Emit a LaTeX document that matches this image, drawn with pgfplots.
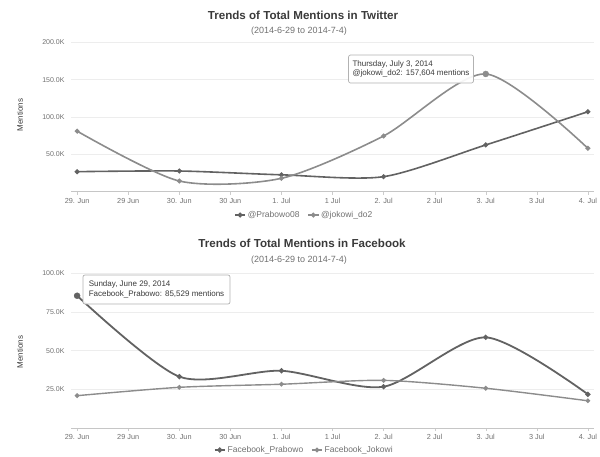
\documentclass[border=0pt]{standalone}
\usepackage{pgfplots}
\pgfplotsset{compat=1.18}
\usepackage{fontspec}
\setmainfont{Liberation Sans}
\definecolor{darkl}{HTML}{626262}
\definecolor{lightl}{HTML}{8C8C8C}
\definecolor{ticktxt}{HTML}{707070}
\definecolor{titletxt}{HTML}{3A3A3A}
\pgfplotsset{
  hc/.style={
    scale only axis,
    xmin=-0.06, xmax=5.06, ymin=0,
    axis x line*=bottom, axis y line*=left,
    x axis line style={draw=gray!45},
    y axis line style={draw=none},
    ytick style={draw=none},
    xtick style={draw=gray!40},
    major tick length=3pt, tick align=outside,
    ymajorgrids, grid style={gray!14, line width=0.6pt},
    xtick={0,0.5,...,5},
    xticklabels={29. Jun,29 Jun,30. Jun,30 Jun,1. Jul,1 Jul,2. Jul,2 Jul,3. Jul,3 Jul,4. Jul},
    xticklabel style={font=\fontsize{7.3}{8}\selectfont, text=ticktxt},
    yticklabel style={font=\fontsize{7}{8}\selectfont, text=ticktxt},
    /pgf/number format/assume math mode=true,
    legend columns=2,
    legend style={draw=none, fill=none, font=\fontsize{8.5}{9}\selectfont, text=ticktxt,
      /tikz/every even column/.append style={column sep=6pt}},
    legend image code/.code={\draw[#1, mark repeat=2, mark phase=2] plot coordinates {(0pt,0pt) (5pt,0pt) (10pt,0pt)};},
    every axis plot/.append style={smooth, tension=0.45},
  }
}
\begin{document}
\begin{tikzpicture}
\useasboundingbox (0pt,0pt) rectangle (600pt,-456pt);
% ---------- Twitter ----------
\node[font=\fontsize{11.6}{13}\selectfont\bfseries, text=titletxt] at (303pt,-15pt) {Trends of Total Mentions in Twitter};
\node[font=\fontsize{9}{10}\selectfont, text=ticktxt] at (299pt,-31pt) {(2014-6-29 to 2014-7-4)};
\node[font=\fontsize{8}{9}\selectfont, text=titletxt, rotate=90] at (20pt,-115pt) {Mentions};
\begin{axis}[hc, at={(71pt,-191.6pt)}, anchor=south west, width=523pt, height=149.3pt,
  ymax=200, ytick={50,100,150,200}, yticklabels={50.0K,100.0K,150.0K,200.0K},
  legend style={at={(0.446,-0.157)}, anchor=center}]
\addplot[color=darkl, line width=1.6pt, mark=*, mark size=1.6pt, mark options={solid}] coordinates {
 (0,26.7) (1,27.6) (2,22.5) (3,20.0) (4,62.5) (5,107)};
\addlegendentry{@Prabowo08}
\addplot[color=lightl, line width=1.6pt, mark=*, mark size=1.6pt, mark options={solid}] coordinates {
 (0,81) (1,14.2) (2,17.8) (3,74.5) (4,157.6) (5,58)};
\addlegendentry{@jokowi\_do2}
\addplot[color=lightl, only marks, mark=*, mark size=3pt, forget plot] coordinates {(4,157.6)};
\end{axis}
\node[draw=gray!60, fill=white, fill opacity=0.92, text opacity=1, rounded corners=2pt, line width=0.7pt,
  align=left, font=\fontsize{8}{9.5}\selectfont, text=titletxt, inner xsep=4pt, inner ysep=3pt,
  minimum width=124pt, minimum height=28pt] at (411pt,-69pt)
  {Thursday, July 3, 2014\\@jokowi\_do2: 157,604 mentions};
% ---------- Facebook ----------
\node[font=\fontsize{11.6}{13}\selectfont\bfseries, text=titletxt] at (302pt,-243pt) {Trends of Total Mentions in Facebook};
\node[font=\fontsize{9}{10}\selectfont, text=ticktxt] at (299pt,-260pt) {(2014-6-29 to 2014-7-4)};
\node[font=\fontsize{8}{9}\selectfont, text=titletxt, rotate=90] at (20pt,-352pt) {Mentions};
\begin{axis}[hc, at={(71pt,-428pt)}, anchor=south west, width=523pt, height=154.7pt,
  ymax=100, ytick={25,50,75,100}, yticklabels={25.0K,50.0K,75.0K,100.0K},
  legend style={at={(0.446,-0.142)}, anchor=center}]
\addplot[color=darkl, line width=1.8pt, mark=*, mark size=1.6pt, mark options={solid}] coordinates {
 (0,85.5) (1,33.2) (2,37) (3,26.7) (4,58.6) (5,21.8)};
\addlegendentry{Facebook\_Prabowo}
\addplot[color=lightl, line width=1.4pt, mark=*, mark size=1.6pt, mark options={solid}] coordinates {
 (0,20.9) (1,26.3) (2,28.3) (3,30.8) (4,25.7) (5,17.6)};
\addlegendentry{Facebook\_Jokowi}
\addplot[color=darkl, only marks, mark=*, mark size=3pt, forget plot] coordinates {(0,85.5)};
\end{axis}
\node[draw=gray!60, fill=white, fill opacity=0.92, text opacity=1, rounded corners=2pt, line width=0.7pt,
  align=left, font=\fontsize{8}{9.5}\selectfont, text=titletxt, inner xsep=4pt, inner ysep=3pt,
  minimum width=147pt, minimum height=29pt] at (156.5pt,-289.5pt)
  {Sunday, June 29, 2014\\Facebook\_Prabowo: 85,529 mentions};
\end{tikzpicture}
\end{document}
